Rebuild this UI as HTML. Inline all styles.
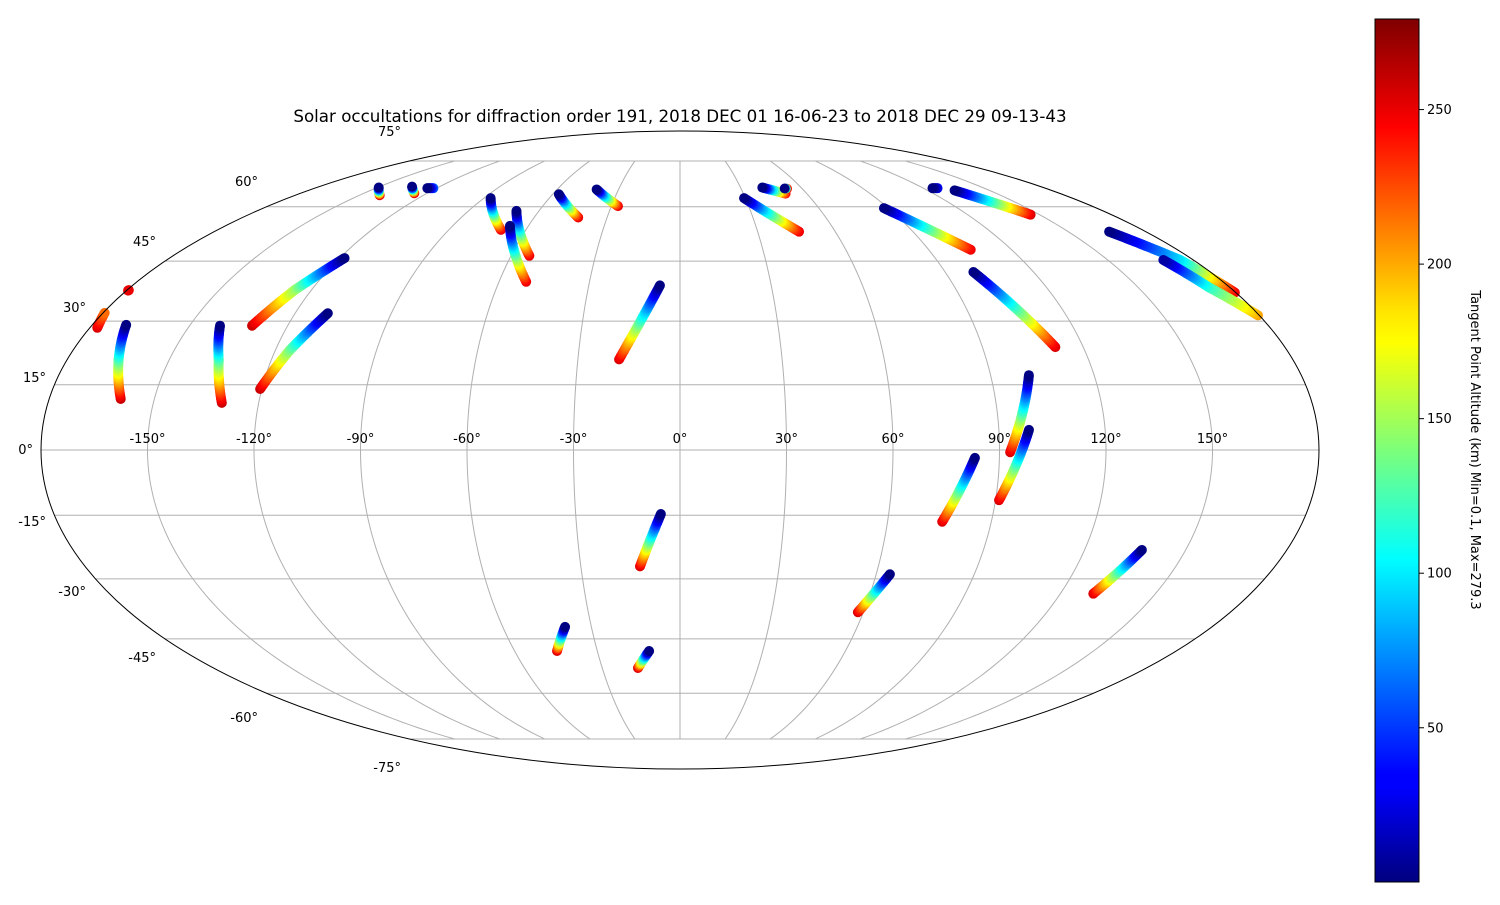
<!DOCTYPE html>
<html><head><meta charset="utf-8"><style>
html,body{margin:0;padding:0;background:#fff;}
svg text{font-family:"DejaVu Sans","Liberation Sans",sans-serif;}
</style></head><body>
<svg id="chart" width="1500" height="900" xmlns="http://www.w3.org/2000/svg">
<defs>
<linearGradient id="jetbar" x1="0" y1="1" x2="0" y2="0">
<stop offset="0" stop-color="#00007f"/><stop offset="0.11" stop-color="#0000ff"/><stop offset="0.125" stop-color="#0000ff"/>
<stop offset="0.34" stop-color="#00dcff"/><stop offset="0.375" stop-color="#00ffff"/><stop offset="0.5" stop-color="#7cff7a"/>
<stop offset="0.625" stop-color="#ffff00"/><stop offset="0.66" stop-color="#ffe600"/><stop offset="0.875" stop-color="#ff0000"/><stop offset="1" stop-color="#7f0000"/>
</linearGradient>
</defs>
<text x="680" y="122" text-anchor="middle" font-size="16.7">Solar occultations for diffraction order 191, 2018 DEC 01 16-06-23 to 2018 DEC 29 09-13-43</text>
<g id="grid"></g>
<g id="tracks"></g>
<ellipse cx="680" cy="450" rx="639" ry="319" fill="none" stroke="#000" stroke-width="1"/>
<g id="labels" font-size="13"></g>
<rect x="1375" y="19" width="44" height="863" fill="url(#jetbar)" stroke="#000" stroke-width="1"/>
<g id="cbticks" font-size="13"></g>
<text transform="translate(1471,450) rotate(90)" text-anchor="middle" font-size="13">Tangent Point Altitude (km) Min=0.1, Max=279.3</text>
</svg>
<script>
// track vertices: [lon, lat, altitude km]
const tracks = [
 [[-177.7,28.4,255],[-179.5,32.0,215]],
 [[-179.5,37.5,255],[-179.4,37.6,250]],
 [[-159.6,11.7,260],[-164.8,20.7,130],[-169.6,29.1,1]],
 [[-130.5,10.8,260],[-135.4,20.7,130],[-140.7,28.9,1]],
 [[-130.9,28.9,260],[-125.4,37.7,150],[-118.3,45.8,1]],
 [[-120.5,14.0,260],[-115.7,23.1,140],[-109.8,31.9,1]],
 [[-140.6,63.5,250],[-149.3,65.9,1]],
 [[-126.1,64.1,250],[-133.8,66.2,1]],
 [[-121.6,65.7,60],[-124.6,65.7,1]],
 [[-69.7,53.4,250],[-86.9,62.6,1]],
 [[-53.5,46.4,250],[-69.6,58.8,1]],
 [[-51.0,39.7,250],[-67.3,54.5,1]],
 [[-41.9,56.9,250],[-57.1,63.8,1]],
 [[-27.1,60.2,250],[-40.7,65.3,1]],
 [[-17.9,20.9,255],[-6.6,38.8,1]],
 [[-16.2,-52.8,255],[-11.2,-48.2,1]],
 [[-44.6,-48.2,255],[-38.9,-41.9,1]],
 [[-12.1,-27.0,255],[-5.5,-14.7,1]],
 [[46.0,52.9,250],[29.4,62.6,1]],
 [[50.0,64.0,240],[40.8,65.9,1]],
 [[52.5,65.5,240],[51.5,65.6,1]],
 [[105.2,48.0,250],[88.1,59.6,1]],
 [[127.0,65.7,30],[124.5,65.7,1]],
 [[146.3,57.7,255],[133.1,65.0,1]],
 [[111.7,23.8,255],[99.6,42.2,1]],
 [[93.0,-0.5,255],[101.1,17.2,1]],
 [[91.0,-11.5,255],[98.5,4.6,1]],
 [[75.8,-16.5,255],[83.1,-1.8,1]],
 [[58.2,-38.2,255],[64.2,-28.9,1]],
 [[130.4,-33.6,255],[137.0,-23.1,1]],
 [[179.7,37.0,250],[175.4,45.3,100],[165.8,52.9,1]],
 [[179.6,31.4,200],[173.2,38.3,120],[169.5,45.3,10]]
];
const lonTicks=[-150,-120,-90,-60,-30,0,30,60,90,120,150];
const latTicks=[-75,-60,-45,-30,-15,0,15,30,45,60,75];
const cbTicks=[50,100,150,200,250];
const cbMin=0.1, cbMax=279.3;

const CX=680,CY=450,A=639,B=319;
function theta(lat){const p=lat*Math.PI/180;if(Math.abs(lat)>=90)return Math.sign(lat)*Math.PI/2;
 let t=p;for(let i=0;i<50;i++){const f=2*t+Math.sin(2*t)-Math.PI*Math.sin(p);const d=2+2*Math.cos(2*t);if(Math.abs(d)<1e-9)break;t-=f/d;}return t;}
function proj(lon,lat){const t=theta(lat);return [CX+A*(lon/180)*Math.cos(t),CY-B*Math.sin(t)];}
function jet(v){const x=(v-cbMin)/(cbMax-cbMin);
 const r=Math.min(1,Math.max(0,Math.min(4*x-1.5,-4*x+4.5)));
 const g=Math.min(1,Math.max(0,Math.min(4*x-0.5,-4*x+3.5)));
 const b=Math.min(1,Math.max(0,Math.min(4*x+0.5,-4*x+2.5)));
 return `rgb(${Math.round(r*255)},${Math.round(g*255)},${Math.round(b*255)})`;}
const NS="http://www.w3.org/2000/svg";
function mk(tag,at,parent){const e=document.createElementNS(NS,tag);for(const k in at)e.setAttribute(k,at[k]);parent.appendChild(e);return e;}
const grid=document.getElementById('grid');
latTicks.forEach(lat=>{const t=theta(lat);const y=CY-B*Math.sin(t);const hw=A*Math.cos(t);
 const l=mk('line',{x1:CX-hw,y1:y,x2:CX+hw,y2:y,stroke:'#b0b0b0','stroke-width':1},grid);
 
 });
lonTicks.forEach(lon=>{let d='';for(let la=-75;la<=75;la+=1){const p=proj(lon,la);d+=(la===-75?'M':'L')+p[0].toFixed(2)+','+p[1].toFixed(2);}
 const e=mk('path',{d:d,fill:'none',stroke:'#b0b0b0','stroke-width':1},grid);
 
 });
const labels=document.getElementById('labels');
lonTicks.forEach(lon=>{const p=proj(lon,0);const e=mk('text',{x:p[0],y:443,'text-anchor':'middle'},labels);e.textContent=lon+'°';
 
 });
const latPos={'-75':[401,772],'-60':[258,722],'-45':[156,662],'-30':[86,596],'-15':[46,526],'0':[33,454],'15':[46,382],'30':[86,312],'45':[156,246],'60':[258,186],'75':[401,136]};
latTicks.forEach(lat=>{const q=latPos[String(lat)];const e=mk('text',{x:q[0],y:q[1],'text-anchor':'end'},labels);e.textContent=lat+'°';
 
 });
const tg=document.getElementById('tracks');
tracks.forEach((tr,i)=>{const g=mk('g',{},tg);
 
 
 for(let s=0;s<tr.length-1;s++){const a=tr[s],b=tr[s+1];const pa=proj(a[0],a[1]),pb=proj(b[0],b[1]);
  const n=Math.max(2,Math.ceil(Math.hypot(pb[0]-pa[0],pb[1]-pa[1])/1.5));
  for(let k=0;k<=n;k++){const f=k/n;const p=proj(a[0]+(b[0]-a[0])*f,a[1]+(b[1]-a[1])*f);
   mk('circle',{cx:p[0].toFixed(2),cy:p[1].toFixed(2),r:5,fill:jet(a[2]+(b[2]-a[2])*f)},g);}}});
const cb=document.getElementById('cbticks');
cbTicks.forEach(v=>{const y=882-(v-cbMin)/(cbMax-cbMin)*863;
 const l=mk('line',{x1:1419,y1:y,x2:1424,y2:y,stroke:'#000'},cb);
 
 
 const t=mk('text',{x:1427,y:y+4.5},cb);t.textContent=v;
 
 });
</script>
</body></html>
